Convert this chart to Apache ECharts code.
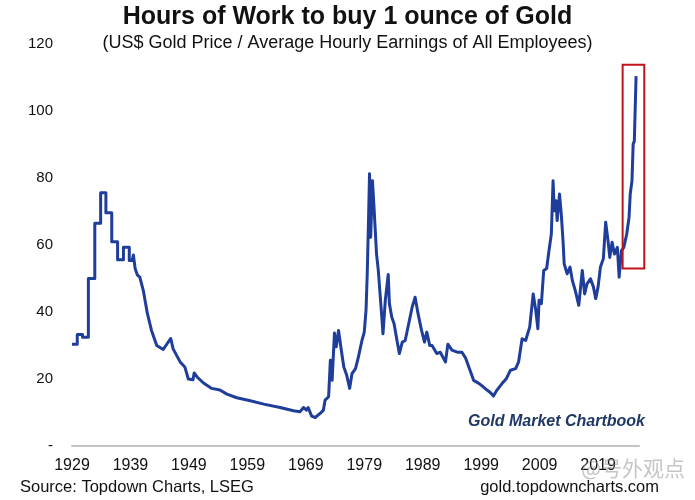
<!DOCTYPE html>
<html>
<head>
<meta charset="utf-8">
<title>Hours of Work to buy 1 ounce of Gold</title>
<script src="https://cdn.jsdelivr.net/npm/echarts@6/dist/echarts.min.js"></script>
<style>
  html, body { margin: 0; padding: 0; background: #fff; }
  #chart { width: 695px; height: 500px; }
</style>
</head>
<body>
<div id="chart"></div>
<script>
// hours of work needed for 1 oz of gold
var baseYear = 1929
var years = [
  1929.0, 1929.9, 1929.9, 1930.8, 1930.8, 1931.8, 1931.8, 1932.9, 1932.9, 1933.9,
  1933.9, 1934.8, 1934.8, 1935.8, 1935.8, 1936.8, 1936.8, 1937.8, 1937.8, 1938.8,
  1938.8, 1939.3, 1939.5, 1939.8, 1940.2, 1940.6, 1941.2, 1941.9, 1942.6, 1943.5,
  1944.6, 1945.3, 1945.9, 1946.3, 1947.5, 1948.3, 1948.9, 1949.7, 1949.9, 1950.4,
  1951.5, 1952.9, 1954.3, 1955.5, 1957.2, 1959.5, 1961.8, 1964.6, 1966.9, 1968.0,
  1968.6, 1969.1, 1969.4, 1970.0, 1970.6, 1971.5, 1972.0, 1972.3, 1972.9, 1973.2,
  1973.5, 1973.9, 1974.2, 1974.6, 1975.0, 1975.5, 1976.0, 1976.5, 1976.9, 1977.5,
  1978.0, 1978.6, 1979.0, 1979.3, 1979.5, 1979.7, 1979.9, 1980.1, 1980.4, 1980.7,
  1981.1, 1981.4, 1981.7, 1982.0, 1982.2, 1982.6, 1983.1, 1983.3, 1983.7, 1984.1,
  1984.6, 1985.0, 1985.5, 1986.0, 1986.6, 1987.2, 1987.7, 1988.2, 1988.8, 1989.3,
  1989.7, 1990.2, 1990.6, 1991.4, 1992.0, 1992.9, 1993.3, 1994.0, 1994.9, 1995.7,
  1996.3, 1997.2, 1997.7, 1998.6, 1999.4, 2000.0, 2000.6, 2001.1, 2001.7, 2002.6,
  2003.3, 2004.0, 2004.9, 2005.4, 2006.0, 2006.6, 2007.3, 2007.9, 2008.3, 2008.7,
  2008.9, 2009.3, 2009.7, 2010.2, 2010.6, 2011.0, 2011.3, 2011.5, 2011.8, 2012.0,
  2012.4, 2012.7, 2013.0, 2013.2, 2013.7, 2014.2, 2014.6, 2015.1, 2015.7, 2016.1,
  2016.3, 2016.7, 2017.1, 2017.7, 2018.2, 2018.6, 2019.0, 2019.4, 2019.9, 2020.3,
  2020.7, 2021.0, 2021.4, 2021.8, 2022.3, 2022.6, 2023.0, 2023.4, 2023.9, 2024.3,
  2024.5, 2024.8, 2025.0, 2025.2, 2025.5
]
var hours = [
  30.4, 30.4, 33.3, 33.3, 32.5, 32.5, 50, 50, 66.5, 66.5,
  75.6, 75.6, 69.6, 69.6, 61, 61, 55.6, 55.6, 59.3, 59.3,
  55.4, 55.4, 57, 53, 51, 50.4, 46.4, 39.5, 34.5, 30,
  28.8, 30.6, 32.1, 29, 25.1, 23.6, 20, 19.8, 21.8, 20.6,
  18.8, 17.2, 16.7, 15.5, 14.4, 13.5, 12.5, 11.5, 10.5, 10.2,
  11.5, 10.7, 11.5, 8.9, 8.5, 9.8, 10.7, 13.7, 14.7, 25.6,
  19.6, 33.7, 29.6, 34.5, 29.5, 23.6, 21.1, 17.2, 21.6, 23.1,
  26.6, 31.5, 34, 40.5, 50.9, 65.3, 81.3, 62.3, 79.2, 70.2,
  57.3, 52.4, 45.4, 38.5, 33.5, 43.5, 51.2, 42.5, 38.5, 36.5,
  31.5, 27.6, 31, 31.5, 36.5, 41.5, 44.4, 39.5, 34.5, 31,
  34, 30, 30, 27.6, 28, 25.1, 30.4, 28.6, 28, 28,
  26.4, 22.1, 19.6, 18.7, 17.6, 16.7, 15.9, 14.9, 16.7, 18.7,
  20.1, 22.6, 23.1, 25.1, 32, 31.5, 35.5, 45.4, 41, 35,
  43.5, 42.5, 52.4, 53, 58.3, 63.3, 79.2, 70.2, 73.2, 67.3,
  75.2, 69.3, 61.3, 54.4, 51.4, 53.4, 49.4, 46.4, 42, 49,
  52.4, 45.4, 48.4, 49.9, 47.5, 44, 47.5, 53.4, 55.9, 66.8,
  61.3, 56.3, 60.8, 57.3, 59.3, 50.4, 58.3, 59.3, 63.3, 68.3,
  75.2, 79.2, 90.1, 91, 110.4
]
// red highlight box (years / hours)
var boxYears = [2023.2, 2026.9]
var boxHours = [53, 113.8]

var chart = echarts.init(document.getElementById('chart'))
var font = '"Liberation Sans", Arial, sans-serif'

var seriesData = years.map(function(y, i) {
  return [y - baseYear, hours[i]]
})

chart.setOption({
  animation: false,
  backgroundColor: '#fff',
  title: {
    text: 'Hours of Work to buy 1 ounce of Gold',
    subtext: '(US$ Gold Price / Average Hourly Earnings of All Employees)',
    left: 'center',
    top: 0,
    itemGap: 4,
    textStyle: { fontFamily: font, fontSize: 25, fontWeight: 'bold', color: '#111' },
    subtextStyle: { fontFamily: font, fontSize: 18, color: '#111' }
  },
  grid: { left: 72, right: 56, top: 44, bottom: 54 },
  xAxis: {
    type: 'value',
    min: 0,
    max: 97,
    interval: 10,
    axisLine: { lineStyle: { color: '#c4c4c4', width: 2 } },
    axisTick: { show: false },
    splitLine: { show: false },
    axisLabel: {
      fontFamily: font,
      fontSize: 16,
      color: '#111',
      margin: 12,
      showMaxLabel: false,
      formatter: function(v) {
        return v % 10 === 0 ? String(baseYear + v) : ''
      }
    }
  },
  yAxis: {
    type: 'value',
    min: 0,
    max: 120,
    interval: 20,
    axisLine: { show: false },
    axisTick: { show: false },
    splitLine: { show: false },
    axisLabel: {
      fontFamily: font,
      fontSize: 15,
      color: '#111',
      margin: 19,
      formatter: function(v) {
        return v === 0 ? '-' : v
      }
    }
  },
  series: [{
    type: 'line',
    data: seriesData,
    showSymbol: false,
    lineStyle: { color: '#1f3d9a', width: 3, join: 'round' }
  }]
})

// annotations: red box + text labels
var p1 = chart.convertToPixel({ gridIndex: 0 }, [boxYears[0] - baseYear, boxHours[1]])
var p2 = chart.convertToPixel({ gridIndex: 0 }, [boxYears[1] - baseYear, boxHours[0]])

chart.setOption({
  graphic: [
    {
      type: 'rect',
      shape: { x: p1[0], y: p1[1], width: p2[0] - p1[0], height: p2[1] - p1[1] },
      style: { fill: 'none', stroke: '#c0141c', lineWidth: 2 },
      z: 10
    },
    {
      type: 'text',
      right: 50,
      top: 414,
      style: {
        text: 'Gold Market Chartbook',
        font: 'italic bold 16px ' + font,
        fill: '#1f3864'
      }
    },
    {
      type: 'text',
      left: 20,
      top: 479,
      style: { text: 'Source: Topdown Charts, LSEG', font: '16.5px ' + font, fill: '#111' }
    },
    {
      type: 'text',
      right: 36,
      top: 479,
      style: { text: 'gold.topdowncharts.com', font: '16.5px ' + font, fill: '#111' }
    },
    {
      type: 'text',
      right: 10,
      top: 458,
      style: {
        text: '@号外观点',
        font: '21px "Noto Sans CJK SC", sans-serif',
        fill: 'rgba(150,150,150,0.55)'
      },
      z: 20
    }
  ]
})
</script>
</body>
</html>
